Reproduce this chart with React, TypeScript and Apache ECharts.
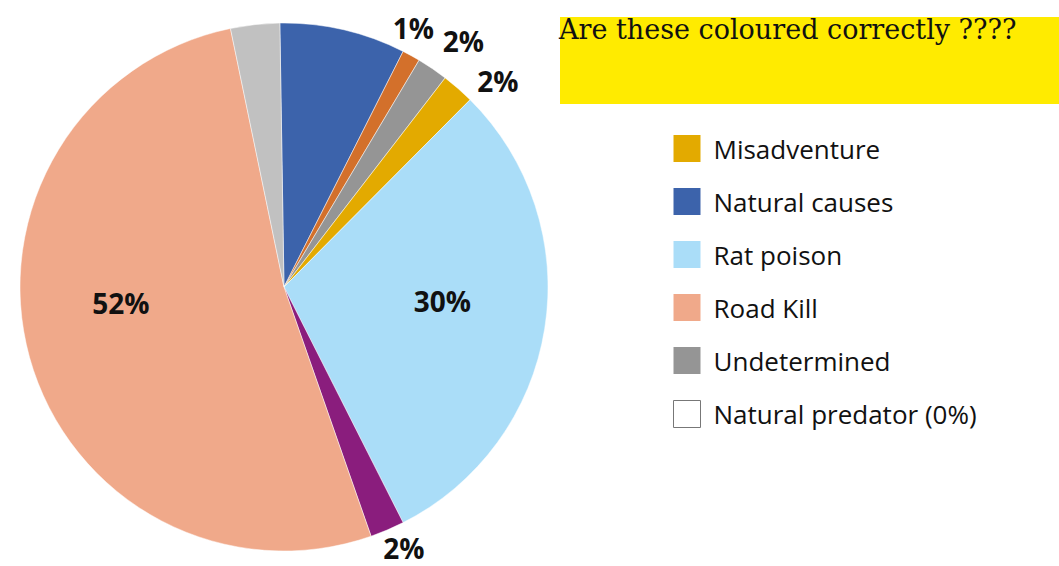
import React, { useEffect, useRef } from "react";
import * as echarts from "echarts";

const sliceNames = [
  "Natural causes",
  "Other 1",
  "Undetermined",
  "Misadventure",
  "Rat poison",
  "Other 2",
  "Road Kill",
  "Other 3",
  "Natural predator",
];
const sliceValues = [7.7, 1.1, 1.9, 2.0, 30.1, 2.1, 52.1, 3.0, 0];
const sliceColors = [
  "#3C63AB",
  "#D3702B",
  "#959595",
  "#E3AA00",
  "#AADDF8",
  "#8A1D7D",
  "#F0A98A",
  "#C1C1C1",
  "#FFFFFF",
];
const showLabel = [false, true, true, true, true, true, true, false, false];
const insideLabel = [false, false, false, false, true, false, true, false, false];
const labelOffsets: number[][] = [
  [0, 0],
  [-33, -10],
  [-6, -11],
  [1, 8],
  [25, -7],
  [-17, 0],
  [-33, -20],
  [0, 0],
  [0, 0],
];
const legendNames = [
  "Misadventure",
  "Natural causes",
  "Rat poison",
  "Road Kill",
  "Undetermined",
  "Natural predator",
];
const titleText = "Are these coloured correctly ????";

export default function App() {
  const ref = useRef<HTMLDivElement>(null);
  useEffect(() => {
    if (!ref.current) return;
    const chart = echarts.init(ref.current, undefined, { renderer: "svg" });
    const data = sliceNames.map((name, i) => ({
      name,
      value: sliceValues[i],
      itemStyle: {
        color: sliceColors[i],
        borderWidth: sliceValues[i] === 0 ? 0 : 0.8,
        borderColor: "rgba(255,255,255,0.6)",
      },
      label: {
        show: showLabel[i],
        position: insideLabel[i] ? "inside" : "outside",
        offset: labelOffsets[i],
      },
      labelLine: { show: false },
    }));
    chart.setOption({
      animation: false,
      backgroundColor: "#fff",
      title: {
        text: titleText,
        left: 559,
        top: 16,
        padding: 0,
        textStyle: {
          fontFamily: "DejaVu Serif",
          fontWeight: "normal",
          fontSize: 27,
          color: "#111",
        },
      },
      graphic: [
        {
          type: "rect",
          z: -10,
          shape: { x: 560, y: 17, width: 499, height: 87 },
          style: { fill: "#FFEB00" },
          silent: true,
        },
      ],
      legend: {
        orient: "vertical",
        left: 673,
        top: 135,
        padding: 0,
        itemWidth: 27,
        itemHeight: 27,
        itemGap: 26,
        icon: "rect",
        selectedMode: false,
        itemStyle: { borderWidth: 0 },
        data: legendNames.map((n) => {
          const idx = sliceNames.indexOf(n);
          if (sliceValues[idx] === 0) {
            return {
              name: n,
              itemStyle: { color: "#fff", borderColor: "#777", borderWidth: 1 },
            };
          }
          return { name: n };
        }),
        formatter: (n: string) => {
          const idx = sliceNames.indexOf(n);
          return sliceValues[idx] === 0 ? `${n} (0%)` : n;
        },
        textStyle: {
          fontFamily: "Open Sans",
          fontSize: 26,
          color: "#111",
          padding: [0, 0, 0, 8],
        },
      },
      series: [
        {
          type: "pie",
          center: [284, 287],
          radius: 264,
          startAngle: 90.9,
          clockwise: true,
          avoidLabelOverlap: false,
          data,
          label: {
            fontFamily: "Open Sans",
            fontWeight: "bold",
            fontSize: 28,
            color: "#111",
            formatter: (p: any) => `${Math.round(p.percent)}%`,
          },
          labelLine: { show: false, length: 20, length2: 0 },
          emphasis: { disabled: true },
        },
      ],
    });
    return () => chart.dispose();
  }, []);
  return (
    <div
      ref={ref}
      style={{ position: "fixed", left: 0, top: 0, width: 1059, height: 566 }}
    />
  );
}
